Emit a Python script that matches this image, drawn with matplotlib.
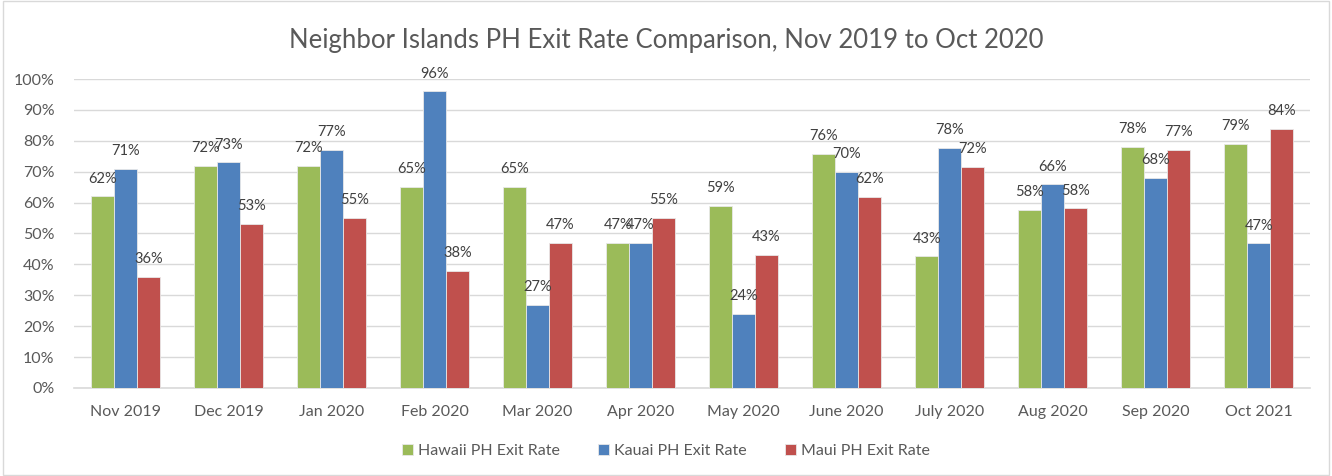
import numpy as np
import matplotlib
matplotlib.use("Agg")
import matplotlib.pyplot as plt
from matplotlib.patches import Rectangle
from matplotlib.ticker import PercentFormatter

plt.rcParams["font.family"] = ["Lato", "DejaVu Sans"]

# Data
months = ["Nov 2019", "Dec 2019", "Jan 2020", "Feb 2020", "Mar 2020", "Apr 2020",
          "May 2020", "June 2020", "July 2020", "Aug 2020", "Sep 2020", "Oct 2021"]
hawaii = [0.62, 0.72, 0.72, 0.65, 0.65, 0.47, 0.59, 0.758, 0.426, 0.576, 0.779, 0.79]
kauai = [0.71, 0.73, 0.77, 0.96, 0.27, 0.47, 0.24, 0.699, 0.777, 0.659, 0.679, 0.468]
maui = [0.36, 0.53, 0.55, 0.38, 0.47, 0.55, 0.43, 0.618, 0.716, 0.581, 0.77, 0.839]
series = [("Hawaii PH Exit Rate", hawaii, "#9BBB59"),
          ("Kauai PH Exit Rate", kauai, "#4F81BD"),
          ("Maui PH Exit Rate", maui, "#C0504D")]

fig = plt.figure(figsize=(13.32, 4.76), dpi=100)
ax = fig.add_axes([0.0556, 0.185, 0.928, 0.649])

x = np.arange(len(months))
barWidth = 0.223
txt_color = "#404040"

for i, (name, vals, color) in enumerate(series):
    pos = x + (i - 1) * barWidth
    ax.bar(pos, vals, width=barWidth, color=color, edgecolor="#e8e8e8",
           linewidth=0.6, label=name, zorder=3)
    for p, v in zip(pos, vals):
        ax.text(p, v + 0.035, "%.0f%%" % (v * 100), ha="center", va="bottom",
                fontsize=10.5, color=txt_color, zorder=4)

ax.set_ylim(0, 1.0)
ax.set_xlim(-0.5, len(months) - 0.5)
ax.set_yticks(np.arange(0, 1.01, 0.1))
ax.yaxis.set_major_formatter(PercentFormatter(1.0, decimals=0))
ax.set_xticks(x)
ax.set_xticklabels(months)
ax.tick_params(axis="both", length=0, labelsize=11.5, labelcolor="#595959")
ax.tick_params(axis="x", pad=12)
ax.tick_params(axis="y", pad=14)
ax.grid(axis="y", color="#d9d9d9", linewidth=1, zorder=0)
for s in ["top", "right", "left"]:
    ax.spines[s].set_visible(False)
ax.spines["bottom"].set_color("#d9d9d9")
ax.spines["bottom"].set_linewidth(1.2)

fig.text(0.5, 0.915, "Neighbor Islands PH Exit Rate Comparison, Nov 2019 to Oct 2020",
         ha="center", va="center", fontsize=18.5, color="#595959")

fig.legend(loc="center", bbox_to_anchor=(0.5, 0.053), ncol=3, frameon=False,
           fontsize=11.5, labelcolor="#595959", handlelength=0.7, handleheight=0.7,
           handletextpad=0.3, columnspacing=2.4)

fig.patches.append(Rectangle((0.002, 0.003), 0.996, 0.994, transform=fig.transFigure,
                             fill=False, edgecolor="#d9d9d9", linewidth=1))

fig.savefig("out.png", dpi=100)
